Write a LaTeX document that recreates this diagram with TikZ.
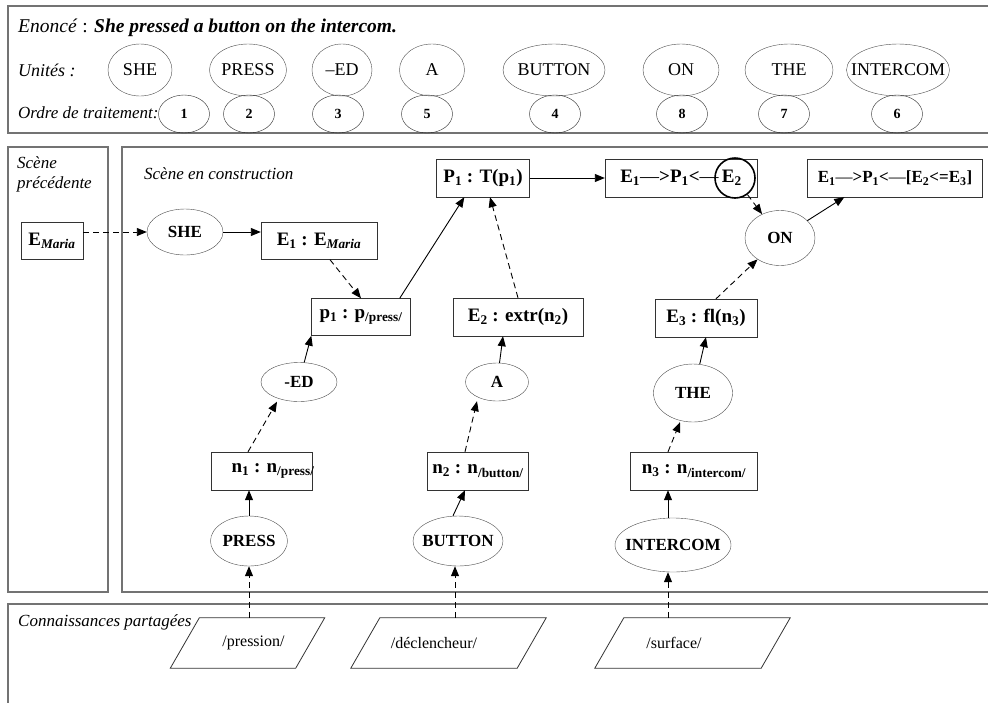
\documentclass[tikz,border=0pt]{standalone}
\usepackage{fontspec}
\setmainfont{Liberation Serif}
\usetikzlibrary{arrows.meta,shapes.geometric}
\newcommand{\nowd}[1]{\makebox[0pt]{#1}}
\tikzset{
  panel/.style={draw=black!55, line width=1.2pt},
  unit/.style={draw=black!70, ellipse, inner sep=0pt, minimum height=52pt, font=\fontsize{18}{20}\selectfont},
  rank/.style={draw=black!85, ellipse, inner sep=0pt, minimum width=51pt, minimum height=38pt, font=\bfseries\fontsize{14}{16}\selectfont},
  word/.style={draw=black!70, ellipse, inner sep=0pt, font=\bfseries\fontsize{17}{19}\selectfont},
  sem/.style={draw=black!80, rectangle, inner sep=0pt, minimum height=38pt, font=\bfseries\fontsize{19}{21}\selectfont},
  know/.style={rectangle, minimum height=50pt, inner sep=0pt, font=\fontsize{16}{18}\selectfont},
  knowline/.style={draw=black!80, line width=0.8pt},
  title/.style={inner sep=0pt, font=\itshape\fontsize{17}{20}\selectfont},
  arr/.style={-{Triangle[length=10pt,width=8pt]}, line width=0.9pt},
  darr/.style={arr, dash pattern=on 6pt off 4pt},
}
\begin{document}
\begin{tikzpicture}[x=1pt,y=-1pt]
\clip (0,0) rectangle (988,702);
% panels
\draw[panel] (8,6) rectangle (1000,133);
\draw[panel] (8,147) rectangle (108,592);
\draw[panel] (122,147) rectangle (1000,592);
\draw[panel] (8,604) rectangle (1000,720);
% enonce
\node[title, anchor=base west, font=\fontsize{19.5}{22}\selectfont] (enonce) at (18,32)
  {\textit{Enoncé} : \textbf{\textit{She pressed a button on the intercom.}}};
\node[title, anchor=base west, font=\itshape\fontsize{18}{20}\selectfont] (unites) at (18,76) {Unités :};
\node[title, anchor=base west] (ordre) at (18,118) {Ordre de traitement:};
\node[unit, minimum width=64pt] (she0) at (140,70){\nowd{SHE}};
\node[unit, minimum width=77pt] (press0) at (248,70){\nowd{PRESS}};
\node[unit, minimum width=60pt] (ed0) at (342,70){\nowd{–ED}};
\node[unit, minimum width=65pt] (a0) at (432,70){\nowd{A}};
\node[unit, minimum width=102pt] (button0) at (554,70){\nowd{BUTTON}};
\node[unit, minimum width=76pt] (on0) at (681,70){\nowd{ON}};
\node[unit, minimum width=88pt] (the0) at (789,70){\nowd{THE}};
\node[unit, minimum width=103pt] (intercom0) at (898,70){\nowd{INTERCOM}};
\node[rank] (r1) at (184,114){1};
\node[rank] (r2) at (249,114){2};
\node[rank] (r3) at (338,114){3};
\node[rank] (r5) at (427,114){5};
\node[rank] (r4) at (555,114){4};
\node[rank] (r8) at (682,114){8};
\node[rank] (r7) at (784,114){7};
\node[rank] (r6) at (897,114){6};
% scenes
\node[title, anchor=north west, align=left] (prev) at (17,156) {Scène\\précédente};
\node[title, anchor=base west] (constr) at (144,179) {Scène en construction};
\node[sem, minimum width=62pt, minimum height=37pt] (emaria) at (52,241){E\textsubscript{\textit{Maria}}};
\node[word, minimum width=76pt, minimum height=46pt] (she) at (185,232){\nowd{SHE}};
\node[sem, minimum width=116pt, minimum height=37pt] (e1) at (319,241){E\textsubscript{1} : E\textsubscript{\textit{Maria}}};
\node[sem, minimum width=99pt, minimum height=37pt] (p1) at (361,317){p\textsubscript{1} : p\textsubscript{/press/}};
\node[sem, minimum width=93pt] (bigp) at (483,178){P\textsubscript{1} : T(p\textsubscript{1})};
\node[sem, minimum width=152pt] (chain) at (681,178){E\textsubscript{1}\textmd{—}>P\textsubscript{1}<\textmd{—}\,E\textsubscript{2}};
\node[sem, minimum width=175pt, font=\bfseries\fontsize{17}{19}\selectfont] (fin) at (895,178){E\textsubscript{1}\textmd{—}>P\textsubscript{1}<\textmd{—}[E\textsubscript{2}<=E\textsubscript{3}]};
\node[circle, draw, line width=1.6pt, minimum size=40pt, inner sep=0pt] (ring) at (735,178){};
\node[word, minimum width=70pt, minimum height=55pt] (on) at (780,238){\nowd{ON}};
\node[sem, minimum width=130pt] (e2) at (518,317){E\textsubscript{2} : extr(n\textsubscript{2})};
\node[sem, minimum width=102pt] (e3) at (706,318){E\textsubscript{3} : fl(n\textsubscript{3})};
\node[word, minimum width=76pt, minimum height=39pt] (ed) at (299,382){\nowd{-ED}};
\node[word, minimum width=63pt, minimum height=38pt] (a) at (497,382){\nowd{A}};
\node[word, minimum width=79pt, minimum height=58pt] (the) at (693,393){\nowd{THE}};
\node[sem, minimum width=101pt] (n1) at (262,471){\nowd{\hspace{22pt}n\textsubscript{1} : n\textsubscript{/press/}}};
\node[sem, minimum width=101pt] (n2) at (478,471){n\textsubscript{2} : n\textsubscript{/button/}};
\node[sem, minimum width=127pt] (n3) at (694,471){n\textsubscript{3} : n\textsubscript{/intercom/}};
\node[word, minimum width=77pt, minimum height=50pt] (press) at (249,541){\nowd{PRESS}};
\node[word, minimum width=90pt, minimum height=50pt] (button) at (458,541){\nowd{BUTTON}};
\node[word, minimum width=116pt, minimum height=54pt] (intercom) at (673,545){\nowd{INTERCOM}};
% shared knowledge
\node[title, anchor=base west] (shared) at (18,626) {Connaissances partagées};
\node[know, minimum width=125pt] (pre) at (262,643){\nowd{/pression/\hspace{17pt}}};
\node[know, minimum width=166pt] (dec) at (463,643){\nowd{/déclencheur/\hspace{58pt}}};
\node[know, minimum width=166pt] (surf) at (707,643){\nowd{/surface/\hspace{66pt}}};
\draw[knowline] (pre.north west) -- (pre.north east) -- ([xshift=-29pt]pre.south east) -- ([xshift=-29pt]pre.south west) -- cycle;
\draw[knowline] (dec.north west) -- (dec.north east) -- ([xshift=-29pt]dec.south east) -- ([xshift=-29pt]dec.south west) -- cycle;
\draw[knowline] (surf.north west) -- (surf.north east) -- ([xshift=-29pt]surf.south east) -- ([xshift=-29pt]surf.south west) -- cycle;
% connectors
\draw[darr] (emaria.east |- she.west) -- (she.west);
\draw[arr] (she.east) -- (she.east -| e1.west);
\draw[darr] ([xshift=11pt]e1.south) -- (p1.north);
\draw[arr] ([xshift=-11pt]p1.north east) -- ([xshift=28pt]bigp.south west);
\draw[darr] (e2.north) -- ([xshift=7pt]bigp.south);
\draw[arr] (bigp.east) -- (chain.west);
\draw[darr] (ring) -- (on);
\draw[arr] (on) -- ([xshift=37pt]fin.south west);
\draw[darr] ([xshift=10pt]e3.north) -- (on);
\draw[arr] (ed) -- (p1.south west);
\draw[darr] ([xshift=-14pt]n1.north) -- ([xshift=-22pt]ed.south);
\draw[arr] (press.north) -- (press.north |- n1.south);
\draw[arr] (a) -- ([xshift=-15pt]e2.south);
\draw[darr] ([xshift=-13pt]n2.north) -- ([xshift=-20pt]a.south);
\draw[arr] ([xshift=-5pt]button.north) -- ([xshift=-13pt]n2.south);
\draw[arr] (the) -- (e3.south);
\draw[darr] ([xshift=-26pt]n3.north) -- ([xshift=-13pt]the.south);
\draw[arr] ([xshift=-5pt]intercom.north) -- ([xshift=-5pt]intercom.north |- n3.south);
\draw[darr] (pre.north -| press.south) -- (press.south);
\draw[darr] ([xshift=-3pt]dec.north -| button.south) -- ([xshift=-3pt]button.south);
\draw[darr] ([xshift=-5pt]surf.north -| intercom.south) -- ([xshift=-5pt]intercom.south);
\end{tikzpicture}
\end{document}
